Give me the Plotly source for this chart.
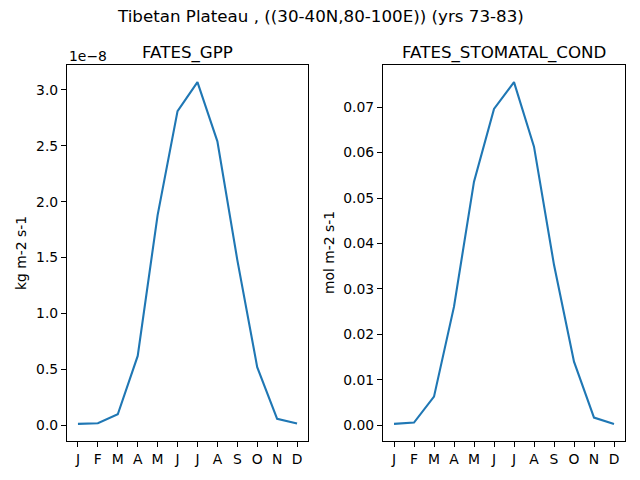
import numpy as np
import plotly.graph_objects as go

months = ['J', 'F', 'M', 'A', 'M', 'J', 'J', 'A', 'S', 'O', 'N', 'D']
# monthly means
gpp = np.array([0.012, 0.018, 0.098, 0.62, 1.88, 2.81, 3.07, 2.54, 1.48, 0.52, 0.057, 0.015]) * 1e-8
stomatal_cond = [0.0003, 0.0006, 0.0063, 0.0261, 0.0536, 0.0696, 0.0755, 0.0613, 0.0353, 0.0140, 0.0017, 0.0003]

W, H = 640, 480
OFF = 8  # page body margin
font = 'DejaVu Sans'
blue = '#1f77b4'
x = list(range(len(months)))

def px_x(p):
    return (p - OFF) / W

def px_y(p):
    return 1 - (p - OFF) / H

fig = go.Figure()
fig.add_trace(go.Scatter(x=x, y=gpp / 1e-8, mode='lines', line=dict(color=blue, width=2.1),
                         xaxis='x', yaxis='y', showlegend=False))
fig.add_trace(go.Scatter(x=x, y=stomatal_cond, mode='lines', line=dict(color=blue, width=2.1),
                         xaxis='x2', yaxis='y2', showlegend=False))

axis_style = dict(showline=True, mirror=True, linecolor='black', linewidth=1.1,
                  ticks='outside', ticklen=5, tickwidth=1.1, tickcolor='black', automargin=False,
                  showgrid=False, zeroline=False, tickfont=dict(family=font, size=13.9, color='black'))

def ylimits(vals):
    lo, hi = min(vals), max(vals)
    m = (hi - lo) * 0.05
    return [lo - m, hi + m]

ydom = [px_y(441), px_y(65)]
fig.update_layout(
    width=W, height=H, margin=dict(l=0, r=0, t=0, b=0),
    plot_bgcolor='white', paper_bgcolor='white',
    xaxis=dict(domain=[px_x(67), px_x(308)], range=[-0.55, 11.55], tickvals=x, ticktext=months,
               anchor='y', **axis_style),
    yaxis=dict(domain=ydom, range=ylimits(list(gpp / 1e-8)), tickvals=[0, 0.5, 1, 1.5, 2, 2.5, 3],
               tickformat='.1f', anchor='x', **axis_style),
    xaxis2=dict(domain=[px_x(383), px_x(625)], range=[-0.55, 11.55], tickvals=x, ticktext=months,
                anchor='y2', **axis_style),
    yaxis2=dict(domain=ydom, range=ylimits(stomatal_cond), tickvals=[0, 0.01, 0.02, 0.03, 0.04, 0.05, 0.06, 0.07],
                tickformat='.2f', anchor='x2', **axis_style),
)

def text(s, xp, yp, size, angle=0, xanchor='center'):
    fig.add_annotation(text=s, x=px_x(xp), y=px_y(yp), xref='paper', yref='paper',
                       showarrow=False, xanchor=xanchor, yanchor='middle', textangle=angle,
                       font=dict(family=font, size=size, color='black'))

text('Tibetan Plateau , ((30-40N,80-100E)) (yrs 73-83)', 320, 16, 16.7)
text('FATES_GPP', 187, 52, 16.7)
text('FATES_STOMATAL_COND', 504, 52, 16.7)
text('1e\u22128', 67, 56, 13.9, xanchor='left')
text('kg m-2 s-1', 21, 253, 13.9, angle=-90)
text('mol m-2 s-1', 329, 253, 13.9, angle=-90)

fig.write_html('out.html')
